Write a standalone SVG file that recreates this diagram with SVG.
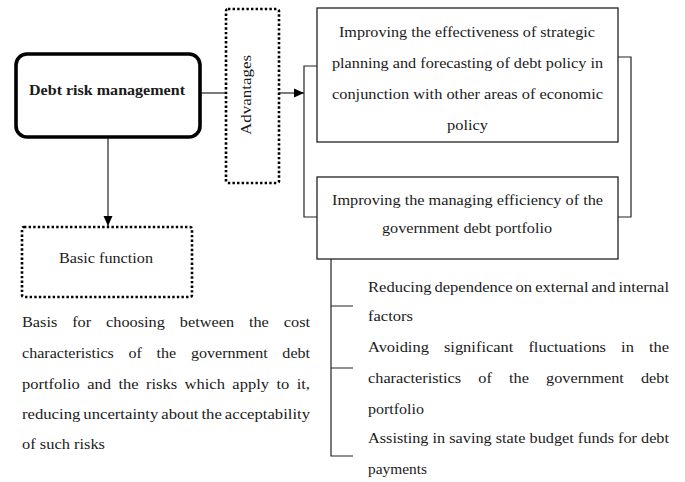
<svg xmlns="http://www.w3.org/2000/svg" width="685" height="482" viewBox="0 0 685 482">
  <style>
    text { font-family: "Liberation Serif", "Times New Roman", serif; font-size: 15px; fill: #1a1a1a; }
    .mid { text-anchor: middle; }
    .bold { font-weight: bold; }
    .box { fill: #fff; stroke: #222; stroke-width: 1.3; }
    .dotted { fill: #fff; stroke: #000; stroke-width: 2.6; stroke-dasharray: 2.4 2.2; }
    .wire { fill: none; stroke: #222; stroke-width: 1.2; }
  </style>
  <defs>
    <marker id="arrow" viewBox="0 0 10 10" refX="10" refY="5" markerWidth="10" markerHeight="10" markerUnits="userSpaceOnUse" orient="auto">
      <path d="M0,0.5 L10,5 L0,9.5 Z" fill="#000"/>
    </marker>
  </defs>

  <rect width="685" height="482" fill="#fff"/>

  <!-- connectors -->
  <g id="connectors">
    <line class="wire" x1="200" y1="93" x2="226" y2="93"/>
    <line class="wire" x1="279" y1="93" x2="304" y2="93" marker-end="url(#arrow)"/>
    <path class="wire" d="M318,66 H304 V217 H318"/>
    <path class="wire" d="M618,57 H631 V217 H618"/>
    <line class="wire" x1="108" y1="137" x2="108" y2="226" marker-end="url(#arrow)"/>
    <path class="wire" d="M331,259 V456 H353 M331,306 H353 M331,368 H353"/>
  </g>

  <!-- central node -->
  <g id="debt-risk-management">
    <rect x="16" y="54" width="184" height="83" rx="11" fill="#fff" stroke="#000" stroke-width="3.6"/>
    <text class="mid bold" x="107" y="95" textLength="156" lengthAdjust="spacingAndGlyphs">Debt risk management</text>
  </g>

  <!-- advantages label box -->
  <g id="advantages">
    <rect class="dotted" x="226" y="9" width="53" height="174" rx="2"/>
    <text class="mid" transform="translate(251,95) rotate(-90)" textLength="80" lengthAdjust="spacingAndGlyphs">Advantages</text>
  </g>

  <!-- advantage 1 -->
  <g id="advantage-planning" lengthAdjust="spacingAndGlyphs">
    <rect class="box" x="317" y="8" width="301" height="134"/>
    <text class="mid" x="467" y="37" textLength="256" lengthAdjust="spacingAndGlyphs">Improving the effectiveness of strategic</text>
    <text class="mid" x="467.5" y="68" textLength="271" lengthAdjust="spacingAndGlyphs">planning and forecasting of debt policy in</text>
    <text class="mid" x="467.5" y="99" textLength="271" lengthAdjust="spacingAndGlyphs">conjunction with other areas of economic</text>
    <text class="mid" x="467.5" y="130" textLength="41" lengthAdjust="spacingAndGlyphs">policy</text>
  </g>

  <!-- advantage 2 -->
  <g id="advantage-efficiency">
    <rect class="box" x="317" y="177" width="301" height="82"/>
    <text class="mid" x="467.5" y="205" textLength="271" lengthAdjust="spacingAndGlyphs">Improving the managing efficiency of the</text>
    <text class="mid" x="467" y="233" textLength="170" lengthAdjust="spacingAndGlyphs">government debt portfolio</text>
  </g>

  <!-- efficiency details -->
  <g id="efficiency-details">
    <text x="368" y="292" textLength="301" lengthAdjust="spacingAndGlyphs" word-spacing="-1">Reducing dependence on external and internal</text>
    <text x="368" y="321" textLength="45" lengthAdjust="spacingAndGlyphs">factors</text>
    <text x="368" y="352" textLength="301" lengthAdjust="spacingAndGlyphs" word-spacing="10">Avoiding significant fluctuations in the</text>
    <text x="368" y="383" textLength="301" lengthAdjust="spacingAndGlyphs" word-spacing="12">characteristics of the government debt</text>
    <text x="368" y="414" textLength="56" lengthAdjust="spacingAndGlyphs">portfolio</text>
    <text x="368" y="443" textLength="301" lengthAdjust="spacingAndGlyphs">Assisting in saving state budget funds for debt</text>
    <text x="368" y="474" textLength="59" lengthAdjust="spacingAndGlyphs">payments</text>
  </g>

  <!-- basic function box -->
  <g id="basic-function">
    <rect class="dotted" x="22" y="227" width="170" height="70" rx="2"/>
    <text class="mid" x="106" y="263" textLength="94" lengthAdjust="spacingAndGlyphs">Basic function</text>
  </g>

  <!-- basic function description -->
  <g id="basic-function-text">
    <text x="22" y="327" textLength="288" lengthAdjust="spacingAndGlyphs" word-spacing="10">Basis for choosing between the cost</text>
    <text x="22" y="358" textLength="288" lengthAdjust="spacingAndGlyphs" word-spacing="10">characteristics of the government debt</text>
    <text x="22" y="389" textLength="288" lengthAdjust="spacingAndGlyphs" word-spacing="3">portfolio and the risks which apply to it,</text>
    <text x="22" y="419" textLength="288" lengthAdjust="spacingAndGlyphs" word-spacing="-1">reducing uncertainty about the acceptability</text>
    <text x="22" y="449" textLength="83" lengthAdjust="spacingAndGlyphs">of such risks</text>
  </g>
</svg>
